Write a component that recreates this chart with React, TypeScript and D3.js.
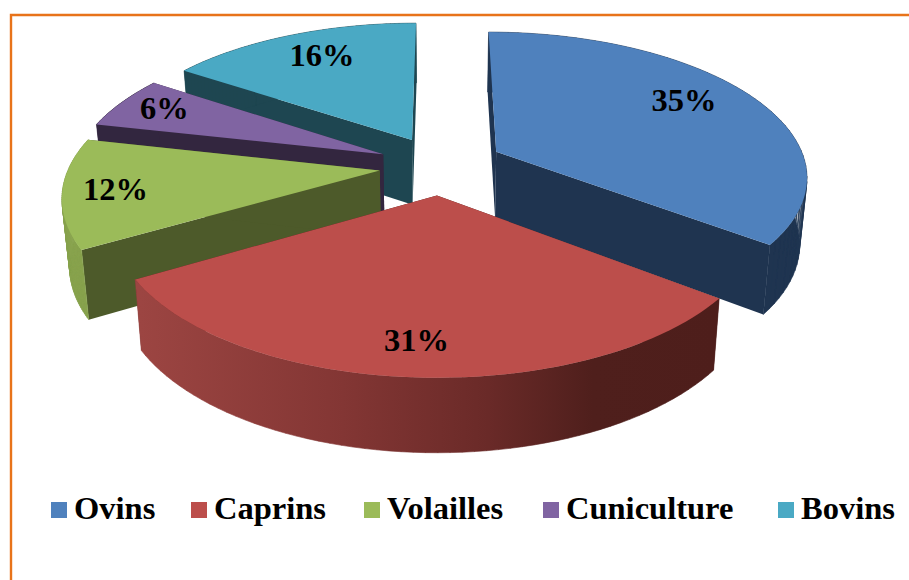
import React from "react";
import * as d3 from "d3";

// Livestock shares, percent
const categories = ["Ovins", "Caprins", "Volailles", "Cuniculture", "Bovins"];
const shares = [35, 31, 12, 6, 16];

const topColors = ["#4f81bd", "#bc4e4b", "#9bbb59", "#8064a2", "#4aa9c4"];
const faceColors = ["#1f3450", "#4e1e1b", "#4d5a2a", "#33263f", "#1e4651"];
const wallColors = ["#1f3450", "url(#caprinsWall)", "#88a34e", "#33263f", "#1e4651"];
const drawOrder = [4, 3, 2, 0, 1];

// Label placement inside each slice: bearing offset from the mid-angle (deg) and radius fraction
const labelBearing = [-3.6, 1.8, 2.2, 3.6, 3.7];
const labelRadius = [0.78, 0.82, 0.82, 0.83, 0.77];

const legendX = [51, 191, 364, 543, 778];

// Horizontal offset of each exploded slice, and the small angular turn (deg) of each slice boundary
const sliceNudge = [3, 2, 6, 5, 5];
const boundaryTurn = [0, 1.5, 2, 2, 1.5, 0];

// Perspective pie geometry
const W = 909, H = 580;
const cx = 437, cy = 165;
const R = 310, explode = 64;
const tilt = 0.46, persp = 0.000512;
const depth = 66, taper = 0.98;

type Pt = [number, number];
const project = (u: number, v: number): Pt => {
  const w = 1 / (1 - persp * v);
  return [cx + u * w, cy + tilt * v * w];
};
const drop = (u: number, v: number): Pt => {
  const w = 1 / (1 - persp * v);
  const [x, y] = project(u, v);
  return [cx + (x - cx) * taper, y + depth * Math.pow(w, 0.6)];
};

const pie = d3.pie<number>().sort(null).value((d) => d);
const arcs = pie(shares);
const line = d3.line<Pt>();

const turnScale = d3
  .scaleLinear()
  .domain([...arcs.map((a) => a.startAngle), 2 * Math.PI])
  .range(boundaryTurn.map((d) => (d * Math.PI) / 180));
const warp = (t: number) => t + turnScale(t);

interface Slice {
  apex: Pt; apexLow: Pt; top: Pt[]; low: Pt[]; label: Pt;
}

const shift = (p: Pt, dx: number): Pt => [p[0] + dx, p[1]];

const slices: Slice[] = arcs.map((a, i) => {
  const mid = (a.startAngle + a.endAngle) / 2;
  const u0 = explode * Math.sin(mid);
  const v0 = -explode * Math.cos(mid);
  const angles = d3.range(0, 61).map((k) => warp(a.startAngle + ((a.endAngle - a.startAngle) * k) / 60));
  const rim = angles.map((t): Pt => [u0 + R * Math.sin(t), v0 - R * Math.cos(t)]);
  const b = mid + (labelBearing[i] * Math.PI) / 180;
  const r = R * labelRadius[i];
  const dx = sliceNudge[i];
  return {
    apex: shift(project(u0, v0), dx),
    apexLow: shift(drop(u0, v0), dx),
    top: rim.map(([u, v]) => shift(project(u, v), dx)),
    low: rim.map(([u, v]) => shift(drop(u, v), dx)),
    label: project(u0 + r * Math.sin(b), v0 - r * Math.cos(b)),
  };
});

const closed = (pts: Pt[]) => (line(pts) ?? "") + "Z";

// The rim wall is built from narrow quads so that its silhouette follows both arcs
const wallPath = (s: Slice) =>
  d3
    .range(s.top.length - 1)
    .map((k) => closed([s.top[k], s.top[k + 1], s.low[k + 1], s.low[k]]))
    .join("");

export default function App() {
  return (
    <svg
      width={W}
      height={H}
      viewBox={`0 0 ${W} ${H}`}
      style={{ position: "fixed", left: 0, top: 0, background: "#fff" }}
    >
      <defs>
        <linearGradient id="caprinsWall" gradientUnits="userSpaceOnUse" x1={140} x2={720} y1={0} y2={0}>
          <stop offset="0" stopColor="#9c4542" />
          <stop offset="0.35" stopColor="#833634" />
          <stop offset="0.6" stopColor="#6a2a28" />
          <stop offset="0.78" stopColor="#4f1f1c" />
          <stop offset="1" stopColor="#4e1e1b" />
        </linearGradient>
      </defs>

      <path d="M11,580V15H909" fill="none" stroke="#e8731a" strokeWidth={2.4} />

      {drawOrder.map((i) => {
        const s = slices[i];
        const n = s.top.length - 1;
        return (
          <g key={categories[i]}>
            <path d={closed([s.apex, s.top[0], s.low[0], s.apexLow])} fill={faceColors[i]} />
            <path d={closed([s.apex, s.top[n], s.low[n], s.apexLow])} fill={faceColors[i]} />
            <path d={wallPath(s)} fill={wallColors[i]} stroke={wallColors[i]} strokeWidth={0.6} />
            <path d={closed([s.apex, ...s.top])} fill={topColors[i]} />
          </g>
        );
      })}

      <g fontFamily="'Liberation Serif', 'Times New Roman', serif" fontWeight="bold" fill="#000">
        {slices.map((s, i) => (
          <text key={categories[i]} x={s.label[0] + 1} y={s.label[1]} dy="0.35em" textAnchor="middle" fontSize={32.5}>
            {shares[i]}%
          </text>
        ))}
        {categories.map((c, i) => (
          <g key={c}>
            <rect x={legendX[i]} y={502} width={16} height={16} fill={topColors[i]} />
            <text x={legendX[i] + 23} y={519} fontSize={32.5}>
              {c}
            </text>
          </g>
        ))}
      </g>
    </svg>
  );
}
